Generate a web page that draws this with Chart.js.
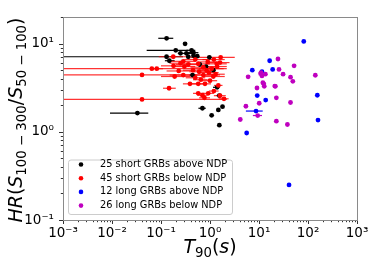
<!DOCTYPE html>
<html>
<head>
<meta charset="utf-8">
<script src="https://cdn.jsdelivr.net/npm/chart.js@4.4.0/dist/chart.umd.min.js"></script>
<style>
  html, body { margin: 0; padding: 0; background: #fff; }
</style>
</head>
<body>
<canvas id="chart" width="374" height="266"></canvas>
<script>
// --- values (T90 in s, hardness ratio, T90 error range) ---
const blackT   = [0.13, 0.31, 0.20, 0.42, 0.46, 0.25, 0.33, 0.13, 0.148, 0.46, 0.97, 0.83, 1.17, 0.44, 1.4, 1.55, 1.8, 0.7, 1.48, 1.08, 1.55, 0.033, 0.36, 0.55, 0.62];
const blackHR  = [11.5, 9.95, 8.4, 8.4, 7.9, 7.76, 7.76, 7.1, 6.4, 7.3, 7.0, 5.5, 5.0, 4.4, 3.2, 2.58, 1.93, 1.85, 1.77, 1.54, 1.19, 1.63, 7.1, 7.2, 5.8];
const blackLo  = [0.088, null, 0.051, 0.33, 0.35, null, 0.22, 0.001, 0.12, null, null, null, null, 0.38, 1.15, 1.35, null, 0.58, null, null, null, 0.0091, null, null, null];
const blackHi  = [0.178, null, 0.36, 0.5, 0.58, null, 0.45, 0.28, 0.19, null, null, null, null, 0.52, 1.55, 1.7, null, 0.82, null, null, null, 0.055, null, null, null];

const redT  = [0.065, 0.082, 0.041, 0.041, 0.178, 1.65, 1.37, 0.285, 0.575, 0.18, 0.36, 0.73, 1.08, 0.19, 0.285, 0.73, 1.17, 0.39, 0.575, 0.79, 1.48, 0.146, 0.575, 0.92, 0.77, 1.6, 1.93, 0.5, 0.9, 1.2, 1.6, 0.45, 0.6, 0.95, 1.3, 0.23, 0.5, 1.0, 0.65, 0.3, 1.4, 0.85, 0.25, 1.2, 0.7];
const redHR = [5.2, 5.2, 4.42, 2.33, 7.1, 7.0, 5.9, 6.3, 5.9, 5.6, 5.8, 5.4, 5.2, 4.24, 4.4, 4.4, 4.24, 3.5, 3.5, 3.5, 3.36, 3.12, 2.73, 2.73, 2.43, 2.57, 2.37, 6.6, 6.2, 6.6, 6.1, 5.0, 4.8, 4.7, 4.5, 4.9, 4.1, 3.8, 3.9, 5.5, 5.5, 5.0, 6.0, 2.9, 2.6];
const redLo = [0.001, 0.06, 0.001, 0.001, 0.09, 0.4, 0.8, 0.15, 0.35, 0.1, 0.2, 0.4, 0.6, 0.1, 0.15, 0.4, 0.7, 0.28, 0.42, 0.6, 1.2, 0.11, 0.45, 0.72, 0.6, 1.2, 1.5, 0.3, 0.55, 0.7, 1.0, 0.28, 0.38, 0.6, 0.85, 0.13, 0.32, 0.7, 0.45, 0.18, 0.9, 0.55, 0.15, 0.95, 0.55];
const redHi = [2.2, 0.11, 1.6, 2.2, 0.4, 3.2, 2.2, 0.5, 1.0, 0.35, 0.6, 1.3, 1.9, 0.4, 0.55, 1.3, 2.0, 0.55, 0.8, 1.05, 1.8, 0.2, 0.75, 1.2, 1.0, 2.1, 2.4, 0.9, 1.5, 2.0, 2.5, 0.75, 0.95, 1.5, 2.0, 0.4, 0.8, 1.4, 0.9, 0.5, 2.2, 1.3, 0.4, 1.5, 0.9];

const blueT  = [82, 16.5, 7.3, 11.5, 19, 155, 9.2, 13.7, 8.7, 160, 5.6, 41];
const blueHR = [10.6, 6.4, 5.0, 4.8, 5.1, 2.6, 2.58, 2.29, 1.72, 1.36, 0.97, 0.25];
const blueLo = [null, null, null, null, null, null, null, null, 5.4, null, null, null];
const blueHi = [null, null, null, null, null, null, null, null, 11.9, null, null, null];

const magT  = [24.4, 52, 6.0, 10.8, 13.5, 11.5, 25.6, 31, 44, 49, 141, 12, 12.8, 9.1, 21.6, 22.6, 10.1, 44, 5.4, 9.4, 4.15, 22.6, 38, 11, 12.5, 21];
const magHR = [6.7, 5.6, 4.2, 4.57, 4.5, 4.3, 5.1, 4.5, 4.17, 3.74, 4.38, 3.6, 3.28, 3.14, 3.28, 2.43, 2.11, 2.15, 1.95, 1.53, 1.38, 1.32, 1.21, 4.7, 3.5, 3.3];
const magLo = [null, null, null, null, null, null, null, null, null, null, null, null, null, null, null, null, null, null, null, 7.5, null, null, null, null, null, null];
const magHi = [null, null, null, null, null, null, null, null, null, null, null, null, null, null, null, null, null, null, null, 11.5, null, null, null, null, null, null];

const legendLabels = ['25 short GRBs above NDP', '45 short GRBs below NDP', '12 long GRBs above NDP', '26 long GRBs below NDP'];
const seriesColors = ['#000000', '#ff0000', '#0000ff', '#bf00bf'];

const xTickValues = [1e-3, 1e-2, 1e-1, 1, 10, 100, 1000];
const xTickLabels = ['10⁻³', '10⁻²', '10⁻¹', '10⁰', '10¹', '10²', '10³'];
const yTickValues = [0.1, 1, 10];
const yTickLabels = ['10⁻¹', '10⁰', '10¹'];

const FONT = 'DejaVu Sans';

// --- helpers ---
function points(xs, ys) {
    return xs.map((x, i) => ({ x: x, y: ys[i] }));
}

function withMinors(majors, max) {
    const out = [];
    majors.forEach(m => {
        for (let k = 1; k <= 9; k++) {
            const v = +(m * k).toPrecision(6);
            if (v <= max) out.push(v);
        }
    });
    return out;
}

function labelFor(values, labels, v) {
    const i = values.findIndex(t => Math.abs(Math.log10(t) - Math.log10(v)) < 1e-6);
    return i >= 0 ? labels[i] : '';
}

function makeSet(idx, xs, ys, lo, hi, order) {
    return {
        label: legendLabels[idx],
        data: points(xs, ys),
        xLo: lo,
        xHi: hi,
        backgroundColor: seriesColors[idx],
        borderColor: seriesColors[idx],
        borderWidth: 0,
        pointRadius: 2.4,
        order: order
    };
}

// horizontal error bars on T90
const errorBars = {
    id: 'errorBars',
    beforeDatasetsDraw(chart) {
        const { ctx, chartArea, scales } = chart;
        ctx.save();
        ctx.beginPath();
        ctx.rect(chartArea.left, chartArea.top, chartArea.right - chartArea.left, chartArea.bottom - chartArea.top);
        ctx.clip();
        chart.data.datasets.forEach(ds => {
            ctx.strokeStyle = ds.borderColor === '#ff0000' ? 'rgba(255,0,0,0.8)' : ds.borderColor;
            ctx.lineWidth = 1.2;
            ds.data.forEach((p, i) => {
                if (ds.xLo[i] == null) return;
                const y = scales.y.getPixelForValue(p.y);
                ctx.beginPath();
                ctx.moveTo(scales.x.getPixelForValue(ds.xLo[i]), y);
                ctx.lineTo(scales.x.getPixelForValue(ds.xHi[i]), y);
                ctx.stroke();
            });
        });
        ctx.restore();
    }
};

// draws a run of text pieces, some italic and some subscript
function drawMath(ctx, parts, size, cx, baseY) {
    const measure = p => {
        ctx.font = (p.it ? 'italic ' : '') + (p.sub ? size * 0.7 : size) + 'px ' + FONT;
        return ctx.measureText(p.t).width;
    };
    const total = parts.reduce((s, p) => s + measure(p), 0);
    let x = cx - total / 2;
    ctx.textBaseline = 'alphabetic';
    ctx.textAlign = 'left';
    ctx.fillStyle = '#000';
    parts.forEach(p => {
        const w = measure(p);
        ctx.fillText(p.t, x, baseY + (p.sub ? size * 0.2 : 0));
        x += w;
    });
}

const decorations = {
    id: 'decorations',
    afterDraw(chart) {
        const { ctx, chartArea: a, scales } = chart;
        ctx.save();

        // ticks, major longer than minor
        ctx.strokeStyle = '#333';
        ctx.lineWidth = 1;
        scales.x.ticks.forEach(t => {
            const x = Math.round(scales.x.getPixelForValue(t.value)) + 0.5;
            const len = labelFor(xTickValues, xTickLabels, t.value) ? 4 : 2.2;
            ctx.beginPath();
            ctx.moveTo(x, a.bottom);
            ctx.lineTo(x, a.bottom + len);
            ctx.stroke();
        });
        scales.y.ticks.forEach(t => {
            const y = Math.round(scales.y.getPixelForValue(t.value)) + 0.5;
            const len = labelFor(yTickValues, yTickLabels, t.value) ? 4 : 2.2;
            ctx.beginPath();
            ctx.moveTo(a.left, y);
            ctx.lineTo(a.left - len, y);
            ctx.stroke();
        });

        // frame
        ctx.strokeStyle = '#8a8a8a';
        ctx.strokeRect(Math.round(a.left) + 0.5, Math.round(a.top) + 0.5,
            Math.round(a.right - a.left), Math.round(a.bottom - a.top));

        // legend box
        const bx = 68, by = 159.5, bw = 164, bh = 54.5;
        ctx.beginPath();
        ctx.roundRect(bx + 0.5, by + 0.5, bw, bh, 2.5);
        ctx.fillStyle = 'rgba(255,255,255,0.85)';
        ctx.fill();
        ctx.strokeStyle = '#cccccc';
        ctx.stroke();
        ctx.font = '9.8px ' + FONT;
        ctx.textBaseline = 'middle';
        ctx.textAlign = 'left';
        legendLabels.forEach((lab, i) => {
            const y = 164.5 + i * 13.7;
            ctx.beginPath();
            ctx.arc(81, y, 2.3, 0, Math.PI * 2);
            ctx.fillStyle = seriesColors[i];
            ctx.fill();
            ctx.fillStyle = '#000';
            ctx.fillText(lab, 100, y);
        });

        // axis titles
        drawMath(ctx, [
            { t: 'T', it: true }, { t: '90', sub: true }, { t: '(' }, { t: 's', it: true }, { t: ')' }
        ], 19, (a.left + a.right) / 2, 253);

        ctx.translate(22, (a.top + a.bottom) / 2 + 1.5);
        ctx.rotate(-Math.PI / 2);
        drawMath(ctx, [
            { t: 'HR', it: true }, { t: '(' }, { t: 'S', it: true }, { t: '100 − 300', sub: true },
            { t: '/' }, { t: 'S', it: true }, { t: '50 − 100', sub: true }, { t: ')' }
        ], 19, 0, 0);

        ctx.restore();
    }
};

new Chart(document.getElementById('chart'), {
    type: 'scatter',
    data: {
        datasets: [
            makeSet(0, blackT, blackHR, blackLo, blackHi, 4),
            makeSet(1, redT, redHR, redLo, redHi, 3),
            makeSet(2, blueT, blueHR, blueLo, blueHi, 2),
            makeSet(3, magT, magHR, magLo, magHi, 1)
        ]
    },
    options: {
        responsive: false,
        animation: false,
        layout: { padding: { left: 0, top: 7, right: 17, bottom: 0 } },
        plugins: { legend: { display: false }, tooltip: { enabled: false } },
        scales: {
            x: {
                type: 'logarithmic',
                min: 1e-3,
                max: 1e3,
                afterBuildTicks: s => { s.ticks = withMinors(xTickValues, 1e3).map(v => ({ value: v })); },
                afterFit: s => { s.height = 46; },
                grid: { display: false, drawTicks: false },
                border: { display: false },
                ticks: {
                    autoSkip: false,
                    maxRotation: 0,
                    padding: 5,
                    color: '#000',
                    font: { family: FONT, size: 13.5 },
                    callback: v => labelFor(xTickValues, xTickLabels, v)
                }
            },
            y: {
                type: 'logarithmic',
                min: 0.1,
                max: 20,
                afterBuildTicks: s => { s.ticks = withMinors(yTickValues, 20).map(v => ({ value: v })); },
                afterFit: s => { s.width = 63; },
                grid: { display: false, drawTicks: false },
                border: { display: false },
                ticks: {
                    autoSkip: false,
                    padding: 9,
                    color: '#000',
                    font: { family: FONT, size: 13.5 },
                    callback: v => labelFor(yTickValues, yTickLabels, v)
                }
            }
        }
    },
    plugins: [errorBars, decorations]
});
</script>
</body>
</html>
